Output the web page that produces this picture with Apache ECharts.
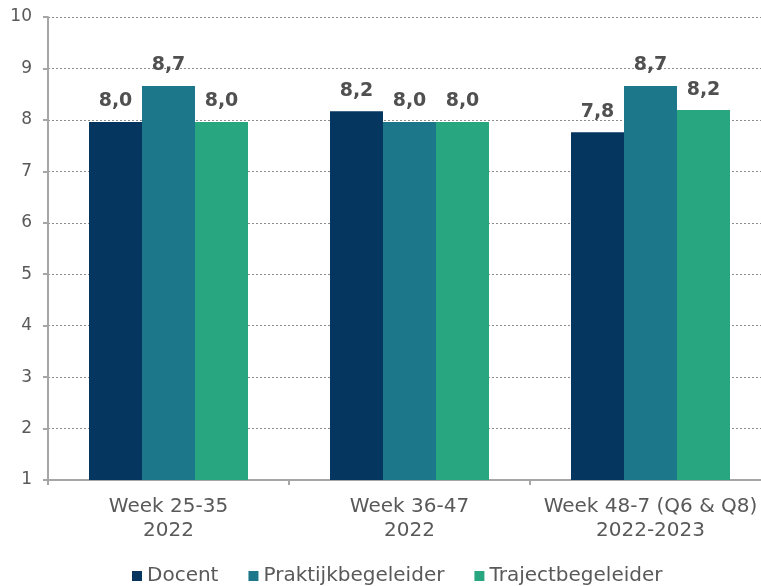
<!DOCTYPE html>
<html>
<head>
<meta charset="utf-8">
<script src="https://cdn.jsdelivr.net/npm/echarts@6/dist/echarts.min.js"></script>
<style>
  html, body { margin: 0; padding: 0; background: #fff; }
  #chart { width: 761px; height: 586px; }
</style>
</head>
<body>
<div id="chart"></div>
<script>
"use strict";

// categorieen (twee regels)
var categories = ["Week 25-35\n2022", "Week 36-47\n2022", "Week 48-7 (Q6 & Q8)\n2022-2023"];
var seriesNames = ["Docent", "Praktijkbegeleider", "Trajectbegeleider"];
// waarden
var docent = [7.96, 8.17, 7.76];
var praktijk = [8.66, 7.96, 8.66];
var traject = [7.96, 7.96, 8.19];
var colors = ["#04365f", "#1b7789", "#28a67f"];

var chart = echarts.init(document.getElementById("chart"));

function makeSeries(name, data, color) {
  return {
    name: name,
    type: "bar",
    data: data,
    barWidth: 53,
    barGap: "0%",
    itemStyle: { color: color },
    label: {
      show: true,
      position: "top",
      distance: 11,
      color: "#505050",
      fontFamily: "DejaVu Sans",
      fontWeight: "bold",
      fontSize: 19,
      formatter: function (p) {
        return p.value.toFixed(1).replace(".", ",");
      }
    }
  };
}

var option = {
  animation: false,
  color: colors,
  grid: { left: 48, top: 17, right: -10, bottom: 106, containLabel: false, outerBoundsMode: "none" },
  legend: {
    data: seriesNames,
    top: 561,
    left: 127,
    itemWidth: 10,
    itemHeight: 10,
    itemGap: 30,
    icon: "rect",
    textStyle: { color: "#595959", fontFamily: "DejaVu Sans", fontSize: 20, padding: [0, 0, 0, 0] }
  },
  xAxis: {
    type: "category",
    data: categories,
    axisLine: { lineStyle: { color: "#a6a6a6", width: 2 } },
    axisTick: { show: true, length: 5, lineStyle: { color: "#a6a6a6", width: 2 } },
    axisLabel: {
      interval: 0,
      color: "#595959",
      fontFamily: "DejaVu Sans",
      fontSize: 20,
      lineHeight: 24,
      margin: 15
    }
  },
  yAxis: {
    type: "value",
    min: 1,
    max: 10,
    interval: 1,
    axisLine: { show: true, lineStyle: { color: "#a6a6a6", width: 2 } },
    axisTick: { show: true, length: 5, lineStyle: { color: "#a6a6a6", width: 2 } },
    axisLabel: { color: "#595959", fontFamily: "DejaVu Sans", fontSize: 17, margin: 16 },
    splitLine: { lineStyle: { color: "#8c8c8c", type: [2, 2], width: 1 } }
  },
  series: [
    makeSeries(seriesNames[0], docent, colors[0]),
    makeSeries(seriesNames[1], praktijk, colors[1]),
    makeSeries(seriesNames[2], traject, colors[2])
  ]
};

chart.setOption(option);
</script>
</body>
</html>
